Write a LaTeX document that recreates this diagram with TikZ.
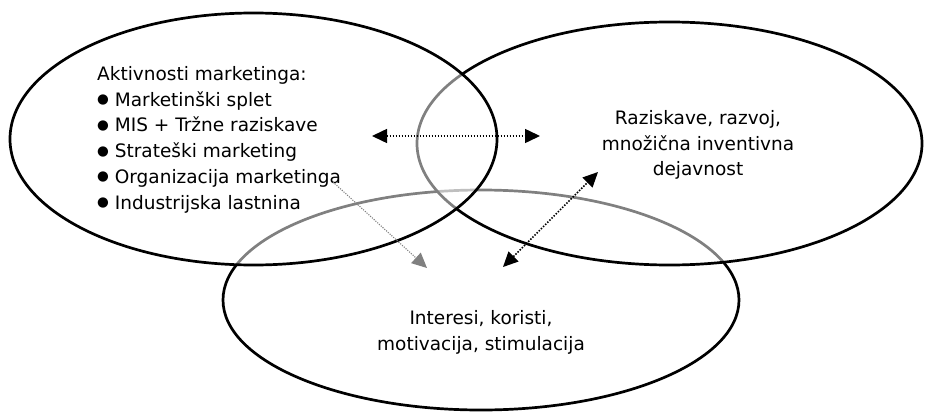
\documentclass[tikz,border=0pt]{standalone}
\usepackage{fontspec}
\setmainfont{DejaVu Sans}
\usetikzlibrary{shapes.geometric,arrows.meta}

\newcommand{\dotmark}{\raisebox{2.6pt}{\fontsize{13.5}{13.5}\selectfont ●}\ }

\tikzset{
	ring/.style={ellipse, draw, line width=2.7pt, fill=white, fill opacity=0.5, inner sep=0pt},
	txt/.style={font=\fontsize{18.5}{25.8}\selectfont, inner sep=0pt},
	link/.style={line width=1.5pt, dash pattern=on 1.5pt off 1.5pt,
		{Triangle[length=15pt,width=14pt]}-{Triangle[length=15pt,width=14pt]}},
	hint/.style={gray, line width=1.1pt, dash pattern=on 1.1pt off 1.3pt,
		-{Triangle[length=15pt,width=14pt]}}
}

\begin{document}
\begin{tikzpicture}[x=1pt,y=-1pt]
		\useasboundingbox (0,0) rectangle (925,412);

		% Ellipses
		\node[ring, minimum width=516pt, minimum height=220pt] (interes) at (481,300) {};
		\node[ring, minimum width=505pt, minimum height=243pt] (razvoj) at (669.5,143.5) {};
		\node[ring, minimum width=487pt, minimum height=252pt] (trzenje) at (253.5,139) {};

		% Texts
		\node[txt, anchor=north west, align=left] (aktivnosti) at (97,66)
			{Aktivnosti marketinga:\\
			\dotmark Marketinški splet\\
			\dotmark MIS + Tržne raziskave\\
			\dotmark Strateški marketing\\
			\dotmark Organizacija marketinga\\
			\dotmark Industrijska lastnina};
		\node[txt, align=center] (razvojtxt) at (698,145)
			{Raziskave, razvoj,\\ množična inventivna\\ dejavnost};
		\node[txt, align=center] (interestxt) at (481,332)
			{Interesi, koristi,\\ motivacija, stimulacija};

		% Arrows
		\coordinate (lr1) at (372,136);
		\coordinate (lr2) at (540,136);
		\coordinate (db1) at (503,267);
		\coordinate (db2) at (598,172);
		\coordinate (g1) at (333,182);
		\coordinate (g2) at (427,268);
		\draw[link] (lr1) -- (lr2);
		\draw[link] (db1) -- (db2);
		\draw[hint] (g1) -- (g2);
	\end{tikzpicture}
\end{document}
